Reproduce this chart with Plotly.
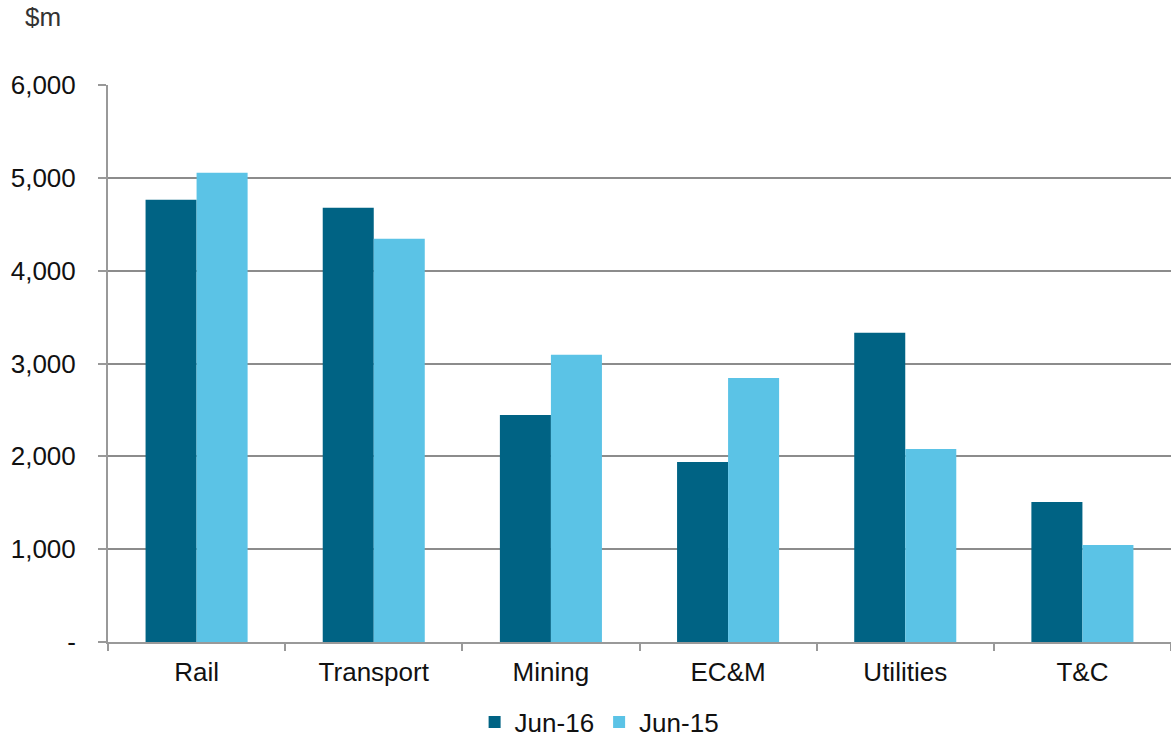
import plotly.graph_objects as go

categories = ["Rail", "Transport", "Mining", "EC&M", "Utilities", "T&C"]
jun16 = [4763, 4677, 2446, 1940, 3330, 1509]
jun15 = [5054, 4343, 3093, 2845, 2080, 1045]
y_ticks = [0, 1000, 2000, 3000, 4000, 5000, 6000]
y_labels = ["-", "1,000", "2,000", "3,000", "4,000", "5,000", "6,000"]

font = dict(family="Liberation Sans, Arial, sans-serif", size=26, color="#111111")

fig = go.Figure()
fig.add_trace(go.Bar(name="Jun-16", x=categories, y=jun16, marker=dict(color="#006384", line=dict(width=0))))
fig.add_trace(go.Bar(name="Jun-15", x=categories, y=jun15, marker=dict(color="#5BC3E6", line=dict(width=0))))

fig.update_layout(
    width=1171, height=740,
    margin=dict(l=108, r=0, t=85, b=98, autoexpand=False),
    paper_bgcolor="white", plot_bgcolor="white",
    barmode="group", bargap=0.424, bargroupgap=0,
    font=font,
    showlegend=True,
    legend=dict(orientation="h", x=0.462, xanchor="center", xref="paper",
                y=1 - 722 / 740, yanchor="middle", yref="container",
                font=dict(size=26), itemwidth=30, traceorder="normal"),
)
fig.add_annotation(text="$m", xref="paper", yref="paper", x=-0.061, y=1.122,
                   xanchor="center", yanchor="middle", showarrow=False,
                   font=dict(size=26, color="#333333"))

fig.update_xaxes(showline=True, linecolor="#999999", linewidth=2,
                 ticks="outside", tickson="boundaries", ticklen=7, tickcolor="#999999", tickwidth=2,
                 showgrid=False, tickfont=dict(size=26), ticklabelstandoff=6)
fig.update_yaxes(range=[0, 6000], tickvals=y_ticks, ticktext=y_labels,
                 showline=True, linecolor="#999999", linewidth=2,
                 ticks="outside", ticklen=8, tickcolor="#999999", tickwidth=2,
                 showgrid=True, gridcolor="#8c8c8c", gridwidth=1.5,
                 zeroline=False, tickfont=dict(size=26), ticklabelstandoff=17)

fig.write_html("out.html", config={"displayModeBar": False},
               post_script="document.body.style.margin='0';document.body.style.overflow='hidden';")
